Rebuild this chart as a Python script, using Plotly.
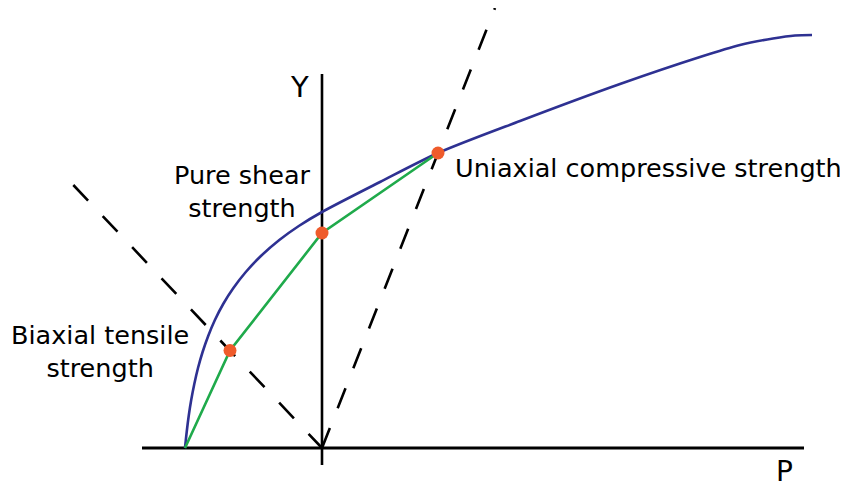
import plotly.graph_objects as go

# ---- data (chart units: P to the right, Y upward; origin at axis crossing) ----
curve_p = [-1.37, -1.353, -1.333, -1.308, -1.277, -1.240, -1.194, -1.138, -1.071, -0.988,
           -0.886, -0.762, -0.611, -0.427, -0.232, 0.0, 0.58, 1.16, 1.98,
           2.98, 3.78, 4.18, 4.51, 4.73, 4.90]
curve_y = [0.0, 0.16, 0.32, 0.48, 0.64, 0.80, 0.96, 1.12, 1.28, 1.44,
           1.60, 1.76, 1.92, 2.08, 2.22, 2.36, 2.66, 2.95, 3.27,
           3.64, 3.91, 4.03, 4.095, 4.125, 4.13]

green_p = [-1.37, -0.92, 0.0, 1.16]
green_y = [0.0, 0.975, 2.15, 2.95]

point_p = [-0.92, 0.0, 1.16]
point_y = [0.975, 2.15, 2.95]
point_labels = ["Biaxial tensile<br>strength", "Pure shear<br>strength", "Uniaxial compressive strength"]

biaxial_path_p = [-2.487, 0.0]
biaxial_path_y = [2.63, 0.0]
uniaxial_path_p = [0.0, 1.73]
uniaxial_path_y = [0.0, 4.40]

p_axis_extent = [-1.80, 4.82]
y_axis_extent = [-0.17, 3.74]

axis_titles = ["P", "Y"]

FONT = "DejaVu Sans"
BLUE = "#2e3192"
GREEN = "#1faa4b"
ORANGE = "#ef5b2b"
LABEL_SIZE = 25.5

fig = go.Figure()

# axes drawn as lines
fig.add_trace(go.Scatter(x=p_axis_extent, y=[0, 0], mode="lines",
                         line=dict(color="black", width=3), hoverinfo="skip"))
fig.add_trace(go.Scatter(x=[0, 0], y=y_axis_extent, mode="lines",
                         line=dict(color="black", width=2.6), hoverinfo="skip"))

# failure envelope
fig.add_trace(go.Scatter(x=curve_p, y=curve_y, mode="lines",
                         line=dict(color=BLUE, width=2.6, shape="spline", smoothing=0.8),
                         hoverinfo="skip"))
# green polyline
fig.add_trace(go.Scatter(x=green_p, y=green_y, mode="lines",
                         line=dict(color=GREEN, width=2.6), hoverinfo="skip"))

# dashed load paths
fig.add_trace(go.Scatter(x=biaxial_path_p, y=biaxial_path_y, mode="lines",
                         line=dict(color="black", width=2.6, dash="21.5px,21.3px"),
                         hoverinfo="skip"))
fig.add_trace(go.Scatter(x=uniaxial_path_p, y=uniaxial_path_y, mode="lines",
                         line=dict(color="black", width=2.6, dash="21.5px,21.3px"),
                         hoverinfo="skip"))

# strength points
fig.add_trace(go.Scatter(x=point_p, y=point_y, mode="markers",
                         marker=dict(color=ORANGE, size=13, line=dict(width=0)),
                         hoverinfo="skip"))

# labels
fig.add_annotation(x=-2.22, y=0.965, text=point_labels[0], showarrow=False,
                   xanchor="center", yanchor="middle", align="center",
                   font=dict(family=FONT, size=LABEL_SIZE, color="black"))
fig.add_annotation(x=-0.80, y=2.565, text=point_labels[1], showarrow=False,
                   xanchor="center", yanchor="middle", align="center",
                   font=dict(family=FONT, size=LABEL_SIZE, color="black"))
fig.add_annotation(x=1.31, y=2.80, text=point_labels[2], showarrow=False,
                   xanchor="left", yanchor="middle", align="left",
                   font=dict(family=FONT, size=LABEL_SIZE, color="black"))
fig.add_annotation(x=4.625, y=-0.235, text=axis_titles[0], showarrow=False,
                   xanchor="center", yanchor="middle",
                   font=dict(family=FONT, size=28, color="black"))
fig.add_annotation(x=-0.225, y=3.61, text=axis_titles[1], showarrow=False,
                   xanchor="center", yanchor="middle",
                   font=dict(family=FONT, size=29, color="black"))

# the page places the figure 8 px from the top-left corner, so the figure is
# 8 px smaller and the ranges keep the axis crossing where the reference has it
fig.update_layout(
    width=840, height=479,
    margin=dict(l=0, r=0, t=0, b=0),
    paper_bgcolor="white", plot_bgcolor="white",
    showlegend=False,
    xaxis=dict(range=[-3.14, 5.26], visible=False, fixedrange=True),
    yaxis=dict(range=[-0.39, 4.40], visible=False, fixedrange=True),
)

fig.write_html("out.html")
